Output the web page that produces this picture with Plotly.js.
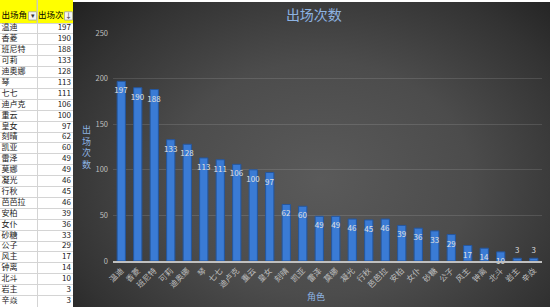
<!DOCTYPE html>
<html><head><meta charset="utf-8">
<script src="https://cdn.plot.ly/plotly-3.0.1.min.js"></script>
<style>
html,body{margin:0;padding:0;background:#fff;width:550px;height:307px;overflow:hidden;}
#tbl{position:absolute;left:0;top:0;width:73px;height:307px;}
#chart{position:absolute;left:73px;top:2px;width:477px;height:305px;
 background:radial-gradient(ellipse 70% 85% at 52% 58%, #5a5a5a 0%, #4c4c4c 45%, #333 80%, #222 100%);}
</style></head>
<body>
<div id="tbl"></div>
<div id="chart"></div>
<script>
const roles = ['温迪','香菱','班尼特','可莉','迪奥娜','琴','七七','迪卢克','重云','皇女','刻晴','凯亚','雷泽','莫娜','凝光','行秋','芭芭拉','安柏','女仆','砂糖','公子','风主','钟离','北斗','岩主','辛焱'];
const counts = [197,190,188,133,128,113,111,106,100,97,62,60,49,49,46,45,46,39,36,33,29,17,14,10,3,3];
const headers = ['出场角','出场次'];
const headerIcons = ['▾','↓'];
const chartTitle = '出场次数';
const xTitle = '角色';
const yTitle = '出场次数';

const F = '"Noto Sans CJK SC", "Noto Sans", sans-serif';

/* ---------- sheet table (drawn on Plotly axes) ---------- */
const W = 73, H = 307, HEAD = 23, ROWH = 10.9;
const rowIdx = roles.map((_, i) => i);
const yTop = -0.5 - HEAD / ROWH;
const yBot = -0.5 + (H - HEAD) / ROWH;
const col1X = 1.5, col2X = 71, sepX = 37, iconX = [32.5, 68.5];
const headY = -1.15;

Plotly.newPlot('tbl', [
  {type: 'scatter', mode: 'text', x: roles.map(() => col1X), y: rowIdx, text: roles,
   textposition: 'middle right', textfont: {family: F, size: 8, color: '#222'}, hoverinfo: 'none', cliponaxis: false},
  {type: 'scatter', mode: 'text', x: counts.map(() => col2X), y: rowIdx, text: counts.map(String),
   textposition: 'middle left', textfont: {family: F, size: 8, color: '#222'}, hoverinfo: 'none', cliponaxis: false},
  {type: 'scatter', mode: 'text', x: [col1X, sepX + 1], y: [headY, headY], text: headers,
   textposition: 'middle right', textfont: {family: F, size: 8.5, color: '#000'}, hoverinfo: 'none', cliponaxis: false},
  {type: 'scatter', mode: 'text', x: iconX, y: [headY, headY], text: headerIcons,
   textposition: 'middle center', textfont: {family: F, size: 7, color: '#333'}, hoverinfo: 'none', cliponaxis: false}
], {
  width: W, height: H,
  margin: {l: 0, r: 0, t: 0, b: 0, pad: 0},
  paper_bgcolor: '#fff', plot_bgcolor: '#fff',
  showlegend: false,
  xaxis: {range: [0, W], fixedrange: true, showticklabels: false, ticks: '', zeroline: false,
          tickvals: [sepX, W - 0.5], showgrid: true, gridcolor: '#d4d4d4', gridwidth: 1},
  yaxis: {range: [yBot, yTop], fixedrange: true, showticklabels: false, ticks: '', zeroline: false,
          tickvals: [-0.5].concat(rowIdx.map(i => i + 0.5)), showgrid: true, gridcolor: '#d4d4d4', gridwidth: 1},
  shapes: [
    {type: 'rect', xref: 'x', yref: 'y', x0: 0, x1: W, y0: yTop, y1: -0.5, fillcolor: '#ffff00', line: {width: 0}, layer: 'below'},
    {type: 'line', xref: 'x', yref: 'y', x0: sepX, x1: sepX, y0: yTop, y1: -0.5, line: {color: '#c8c8a0', width: 1}},
    {type: 'rect', xref: 'x', yref: 'y', x0: iconX[0] - 4, x1: iconX[0] + 4, y0: headY - 0.38, y1: headY + 0.38,
     fillcolor: '#f4f4f4', line: {color: '#999', width: 0.7}, layer: 'below'},
    {type: 'rect', xref: 'x', yref: 'y', x0: iconX[1] - 4, x1: iconX[1] + 4, y0: headY - 0.38, y1: headY + 0.38,
     fillcolor: '#f4f4f4', line: {color: '#999', width: 0.7}, layer: 'below'}
  ]
}, {staticPlot: true, displayModeBar: false});

/* ---------- chart ---------- */
const labelPos = counts.map(v => v < 8 ? 'outside' : 'inside');

Plotly.newPlot('chart', [{
  type: 'bar',
  x: roles,
  y: counts,
  text: counts.map(String),
  textposition: labelPos,
  insidetextanchor: 'end',
  constraintext: 'none',
  textangle: 0,
  cliponaxis: false,
  textfont: {family: F, size: 8, color: '#d9d9d9'},
  outsidetextfont: {family: F, size: 8, color: '#d9d9d9'},
  insidetextfont: {family: F, size: 8, color: '#e0e0e0'},
  marker: {color: '#3a7bd5', line: {color: '#24569e', width: 1}},
  hoverinfo: 'none'
}], {
  width: 477, height: 305,
  margin: {l: 40, r: 8, t: 31, b: 46},
  paper_bgcolor: 'rgba(0,0,0,0)',
  plot_bgcolor: 'rgba(0,0,0,0)',
  bargap: 0.5,
  showlegend: false,
  font: {family: F, color: '#bfbfbf'},
  title: {text: chartTitle, x: 0.505, xanchor: 'center', y: 0.957, yanchor: 'middle',
          font: {family: F, size: 14, color: '#8db3e2'}},
  xaxis: {
    type: 'category',
    tickangle: -45,
    tickfont: {family: F, size: 8, color: '#bfbfbf'},
    showline: true, linecolor: '#bfbfbf', linewidth: 2,
    ticks: '', showgrid: false, zeroline: false,
    range: [-0.5, roles.length - 0.5]
  },
  yaxis: {
    range: [0, 250], dtick: 50,
    tickfont: {family: F, size: 7.5, color: '#bfbfbf'},
    gridcolor: 'rgba(255,255,255,0.12)', gridwidth: 1,
    zeroline: false, ticks: '', showline: false,
    ticklabelstandoff: 4
  },
  annotations: [
    {text: yTitle.split('').join('<br>'), xref: 'paper', yref: 'paper',
     x: -0.062, y: 0.5, xanchor: 'center', yanchor: 'middle', showarrow: false,
     font: {family: F, size: 9, color: '#8db3e2'}},
    {text: xTitle, xref: 'paper', yref: 'paper',
     x: 0.474, y: -0.155, xanchor: 'center', yanchor: 'middle', showarrow: false,
     font: {family: F, size: 9, color: '#8db3e2'}}
  ]
}, {staticPlot: true, displayModeBar: false});
</script>
</body></html>
